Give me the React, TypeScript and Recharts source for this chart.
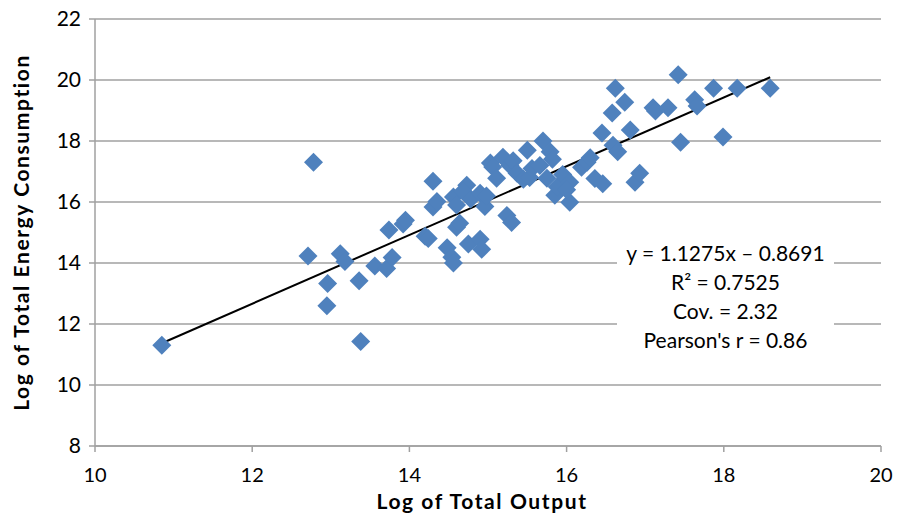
import { CartesianGrid, ReferenceLine, Scatter, ScatterChart, XAxis, YAxis } from "recharts";

// log of total output (x) vs log of total energy consumption (y)
const outputLog = [
  10.85, 12.78, 12.71, 12.96, 12.95, 13.12, 13.18, 13.36, 13.38, 13.56, 13.71, 13.78, 13.74, 13.92,
  13.95, 14.2, 14.24, 14.3, 14.3, 14.35, 14.48, 14.54, 14.56, 14.56, 14.6, 14.64, 14.6, 14.73, 14.68,
  14.75, 14.78, 14.9, 14.9, 14.92, 14.96, 14.98, 15.03, 15.06, 15.11, 15.19, 15.24, 15.3, 15.28, 15.32,
  15.37, 15.45, 15.5, 15.53, 15.56, 15.66, 15.7, 15.75, 15.79, 15.82, 15.85, 15.88, 15.95, 16.04, 16.04,
  16.0, 16.19, 16.26, 16.3, 16.36, 16.46, 16.45, 16.58, 16.62, 16.74, 16.59, 16.65, 16.81, 16.87, 16.93,
  17.1, 17.13, 17.29, 17.42, 17.45, 17.63, 17.66, 17.87, 17.99, 18.17, 18.59,
];
const energyLog = [
  11.3, 17.3, 14.23, 13.33, 12.6, 14.3, 14.05, 13.42, 11.43, 13.9, 13.82, 14.18, 15.08, 15.28,
  15.4, 14.88, 14.8, 16.68, 15.84, 16.02, 14.5, 14.19, 14.0, 16.16, 15.17, 15.3, 15.9, 16.55, 16.35,
  14.62, 16.1, 16.29, 14.78, 14.45, 15.85, 16.2, 17.28, 17.15, 16.78, 17.47, 15.56, 15.33, 17.2, 17.35,
  16.94, 16.75, 17.7, 16.8, 17.1, 17.2, 18.0, 16.78, 17.65, 17.4, 16.22, 16.5, 16.9, 16.65, 15.99,
  16.4, 17.14, 17.3, 17.45, 16.77, 16.6, 18.26, 18.92, 19.73, 19.27, 17.86, 17.65, 18.36, 16.65, 16.94,
  19.09, 18.98, 19.09, 20.17, 17.96, 19.35, 19.15, 19.73, 18.13, 19.73, 19.73,
];

// trend line end points
const trendX = [10.85, 18.59];
const trendY = [11.37, 20.09];

const xTicks = [10, 12, 14, 16, 18, 20];
const yTicks = [8, 10, 12, 14, 16, 18, 20, 22];

const statLines = ["y = 1.1275x \u2013 0.8691", "R\u00b2 = 0.7525", "Cov. = 2.32", "Pearson's r = 0.86"];

const points = outputLog.map((x, i) => ({ x, y: energyLog[i] }));

const FONT = "Lato, 'Open Sans', sans-serif";
const BLUE = "#4f81bd";
const GRID = "#a0a0a0";

function Diamond(props: any) {
  const { cx, cy } = props;
  const r = 9.5;
  return (
    <polygon
      points={`${cx},${cy - r} ${cx + r},${cy} ${cx},${cy + r} ${cx - r},${cy}`}
      fill={BLUE}
    />
  );
}

const titleStyle = { fill: "#000", fontSize: 21, fontWeight: 700, fontFamily: FONT, letterSpacing: 1.6 };

export default function App() {
  return (
    <div style={{ position: "absolute", left: 0, top: 0, width: 898, height: 513, background: "#fff" }}>
      <ScatterChart width={898} height={513} margin={{ top: 19, right: 17, bottom: 0, left: 0 }}>
        <CartesianGrid vertical={false} stroke={GRID} strokeWidth={1.5} />
        <XAxis
          type="number"
          dataKey="x"
          domain={[10, 20]}
          ticks={xTicks}
          height={67}
          stroke={GRID}
          strokeWidth={1.5}
          tickSize={6}
          tickMargin={16}
          tick={{ fill: "#000", fontSize: 20, fontFamily: FONT }}
          label={{
            value: "Log of Total Output",
            position: "insideBottom",
            offset: 4,
            dx: -6,
            style: titleStyle,
          }}
        />
        <YAxis
          type="number"
          dataKey="y"
          domain={[8, 22]}
          ticks={yTicks}
          width={95}
          stroke={GRID}
          strokeWidth={1.5}
          tickSize={6}
          tickMargin={8}
          tick={{ fill: "#000", fontSize: 21, fontFamily: FONT }}
          label={{
            value: "Log of Total Energy Consumption",
            angle: -90,
            position: "insideLeft",
            offset: 22,
            style: { ...titleStyle, textAnchor: "middle" },
          }}
        />
        <Scatter data={points} shape={Diamond} isAnimationActive={false} />
        <ReferenceLine
          segment={[
            { x: trendX[0], y: trendY[0] },
            { x: trendX[1], y: trendY[1] },
          ]}
          stroke="#000"
          strokeWidth={2}
        />
      </ScatterChart>
      <div
        style={{
          position: "absolute",
          left: 617,
          top: 238,
          width: 217,
          background: "#fff",
          textAlign: "center",
          fontFamily: FONT,
          fontSize: 21,
          lineHeight: "29px",
          color: "#000",
          paddingBottom: 2,
        }}
      >
        {statLines.map((s) => (
          <div key={s}>{s}</div>
        ))}
      </div>
    </div>
  );
}
